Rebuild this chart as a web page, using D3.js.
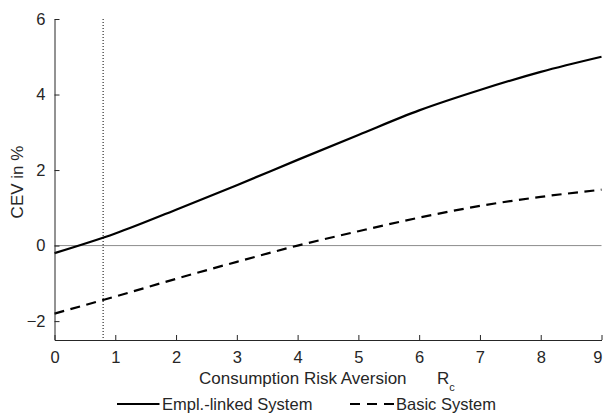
<!DOCTYPE html>
<html><head><meta charset="utf-8">
<script src="https://cdn.jsdelivr.net/npm/d3@7"></script>
<style>body{margin:0;background:#fff}svg{display:block}text{font-family:"Liberation Sans",Arial,sans-serif}</style>
</head><body>
<script>
const xValues = [0,1,2,3,4,5,6,7,8,9];
const emplLinked = [-0.2,0.32,0.95,1.6,2.27,2.93,3.58,4.12,4.6,5.0];
const basic = [-1.8,-1.35,-0.88,-0.43,0.0,0.38,0.74,1.05,1.29,1.48];
const xTicks = [0,1,2,3,4,5,6,7,8,9];
const yTicks = [-2,0,2,4,6];
const refX = 0.8;
const seriesNames = ["Empl.-linked System","Basic System"];

const W=603,H=413;
const m={l:54.5,r:1.5,t:19,b:73};
const svg=d3.select("body").append("svg").attr("width",W).attr("height",H);
const x=d3.scaleLinear().domain([0,9]).range([m.l,W-m.r]);
const y=d3.scaleLinear().domain([-2.5,6]).range([H-m.b,m.t]);
const axisCol="#262626";

// zero line
svg.append("line").attr("x1",x(0)).attr("x2",x(9)).attr("y1",y(0)).attr("y2",y(0))
  .attr("stroke","#8c8c8c").attr("stroke-width",1);
// reference dotted line
svg.append("line").attr("x1",x(refX)).attr("x2",x(refX)).attr("y1",y(6)).attr("y2",y(-2.5))
  .attr("stroke","#000").attr("stroke-width",1).attr("stroke-dasharray","1,2");

const line=d3.line().x(d=>x(d[0])).y(d=>y(d[1])).curve(d3.curveMonotoneX);
svg.append("path").datum(xValues.map((v,i)=>[v,emplLinked[i]])).attr("d",line)
  .attr("fill","none").attr("stroke","#000").attr("stroke-width",2.2);
svg.append("path").datum(xValues.map((v,i)=>[v,basic[i]])).attr("d",line)
  .attr("fill","none").attr("stroke","#000").attr("stroke-width",2.2).attr("stroke-dasharray","10,6.5");

// axes
const xa=svg.append("g").attr("transform",`translate(0,${y(-2.5)})`)
  .call(d3.axisBottom(x).tickValues(xTicks).tickSizeInner(-5).tickSizeOuter(0).tickPadding(11));
const ya=svg.append("g").attr("transform",`translate(${x(0)},0)`)
  .call(d3.axisLeft(y).tickValues(yTicks).tickSizeInner(-5).tickSizeOuter(0).tickPadding(9));
[xa,ya].forEach(g=>{
  g.select(".domain").attr("stroke",axisCol);
  g.selectAll(".tick line").attr("stroke",axisCol);
  g.selectAll(".tick text").attr("fill",axisCol).style("font-size","16.5px").style("font-family","Liberation Sans, Arial, sans-serif");
});
// keep last x tick label inside the frame
xa.selectAll(".tick text").filter(d=>d===9).attr("text-anchor","end").attr("dx","0.5");

// labels
svg.append("text").attr("transform",`translate(23,182) rotate(-90)`)
  .attr("text-anchor","middle").attr("fill",axisCol).style("font-size","17px").text("CEV in %");
const xl=svg.append("text").attr("x",199).attr("y",384).attr("fill",axisCol).style("font-size","17px");
xl.append("tspan").text("Consumption Risk Aversion");
xl.append("tspan").attr("x",437).text("R");
xl.append("tspan").attr("dy",6.5).style("font-size","11px").text("c");

// legend
const lg=svg.append("g");
lg.append("line").attr("x1",117).attr("x2",159.5).attr("y1",404).attr("y2",404).attr("stroke","#000").attr("stroke-width",2.2);
lg.append("text").attr("x",162).attr("y",410).attr("fill",axisCol).style("font-size","16.5px").text(seriesNames[0]);
lg.append("line").attr("x1",350).attr("x2",395).attr("y1",404).attr("y2",404).attr("stroke","#000").attr("stroke-width",2.2).attr("stroke-dasharray","10,7");
lg.append("text").attr("x",396).attr("y",410).attr("fill",axisCol).style("font-size","16.5px").text(seriesNames[1]);
</script>
</body></html>
